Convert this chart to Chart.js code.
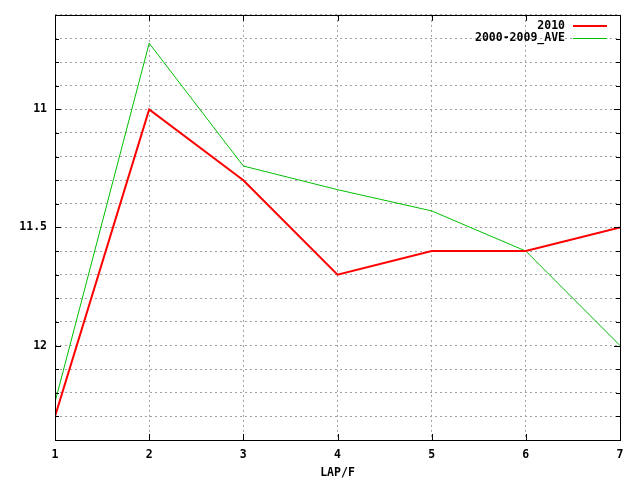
<!DOCTYPE html>
<html>
<head>
<meta charset="utf-8">
<script src="https://cdn.jsdelivr.net/npm/chart.js@4/dist/chart.umd.min.js"></script>
<style>
html,body{margin:0;padding:0;background:#fff;}
#wrap{width:640px;height:480px;position:relative;}
</style>
</head>
<body>
<div id="wrap"><canvas id="c" width="640" height="480"></canvas></div>
<script>
const laps = [1, 2, 3, 4, 5, 6, 7];
const series2010 = [12.3, 11.0, 11.3, 11.7, 11.6, 11.6, 11.5];
const seriesAve = [12.24, 10.72, 11.24, 11.34, 11.43, 11.6, 12.0];
const yLabels = [11, 11.5, 12];
const seriesNames = ['2010', '2000-2009_AVE'];
const xTitle = 'LAP/F';

const FONT = 'DejaVu Sans Mono';

const frame = {
  id: 'frame',
  afterDatasetsDraw(chart) {
    const ctx = chart.ctx;
    const a = chart.chartArea;
    const ys = chart.scales.y, xs = chart.scales.x;
    ctx.save();
    ctx.strokeStyle = '#000';
    ctx.lineWidth = 1;
    ctx.setLineDash([]);
    // tick marks
    ctx.beginPath();
    ys.ticks.forEach(t => {
      const py = Math.round(ys.getPixelForValue(t.value)) + 0.5;
      const major = yLabels.some(v => Math.abs(v - t.value) < 1e-6);
      const len = major ? 6 : 4;
      ctx.moveTo(a.left, py); ctx.lineTo(a.left + len, py);
      ctx.moveTo(a.right, py); ctx.lineTo(a.right - len, py);
    });
    xs.ticks.forEach(t => {
      const px = Math.round(xs.getPixelForValue(t.value)) + 0.5;
      ctx.moveTo(px, a.bottom); ctx.lineTo(px, a.bottom - 6);
      ctx.moveTo(px, a.top); ctx.lineTo(px, a.top + 6);
    });
    ctx.stroke();
    ctx.strokeRect(Math.round(a.left) + 0.5, Math.round(a.top) + 0.5,
      Math.round(a.right - a.left), Math.round(a.bottom - a.top));
    // legend
    ctx.font = 'bold 11.5px "' + FONT + '"';
    ctx.textAlign = 'right';
    ctx.textBaseline = 'middle';
    chart.data.datasets.forEach((ds, i) => {
      const y = a.top + 11 + i * 12;
      ctx.fillStyle = '#000';
      ctx.fillText(ds.label, a.right - 55, y + 0.5);
      ctx.strokeStyle = ds.borderColor;
      ctx.lineWidth = ds.borderWidth;
      ctx.beginPath();
      const yy = ds.borderWidth % 2 ? Math.round(y) + 0.5 : Math.round(y);
      ctx.moveTo(a.right - 47, yy); ctx.lineTo(a.right - 13, yy);
      ctx.stroke();
    });
    ctx.restore();
  }
};

new Chart(document.getElementById('c'), {
  type: 'line',
  data: {
    datasets: [
      {
        label: seriesNames[0],
        data: laps.map((x, i) => ({x: x, y: series2010[i]})),
        borderColor: '#ff0000',
        borderWidth: 2,
        pointRadius: 0,
        tension: 0,
        fill: false
      },
      {
        label: seriesNames[1],
        data: laps.map((x, i) => ({x: x, y: seriesAve[i]})),
        borderColor: '#00c000',
        borderWidth: 1,
        pointRadius: 0,
        tension: 0,
        fill: false
      }
    ]
  },
  options: {
    responsive: false,
    animation: false,
    devicePixelRatio: 1,
    layout: {padding: {top: 13, right: 20, left: 0, bottom: 0}},
    plugins: {legend: {display: false}, tooltip: {enabled: false}},
    scales: {
      x: {
        type: 'linear',
        min: 1, max: 7,
        afterFit(s) { s.height = 40; },
        grid: {color: '#a0a0a0', lineWidth: 1, drawTicks: false},
        border: {display: false, dash: [2, 3]},
        ticks: {
          stepSize: 1,
          padding: 8,
          color: '#000',
          font: {family: FONT, size: 11.5, weight: 'bold'},
          maxRotation: 0
        },
        title: {
          display: true,
          text: xTitle,
          color: '#000',
          font: {family: FONT, size: 11.5, weight: 'bold'},
          padding: {top: 0, bottom: 0}
        }
      },
      y: {
        type: 'linear',
        reverse: true,
        min: 10.6, max: 12.4,
        afterFit(s) { s.width = 55; },
        afterBuildTicks(s) {
          const t = [];
          for (let k = 106; k <= 124; k++) t.push({value: k / 10});
          s.ticks = t;
        },
        grid: {color: '#a0a0a0', lineWidth: 1, drawTicks: false},
        border: {display: false, dash: [2, 3]},
        ticks: {
          padding: 8,
          color: '#000',
          font: {family: FONT, size: 11.5, weight: 'bold'},
          callback(v) {
            const m = yLabels.find(l => Math.abs(l - v) < 1e-6);
            return m === undefined ? '' : String(m);
          }
        }
      }
    }
  },
  plugins: [frame]
});
</script>
</body>
</html>
